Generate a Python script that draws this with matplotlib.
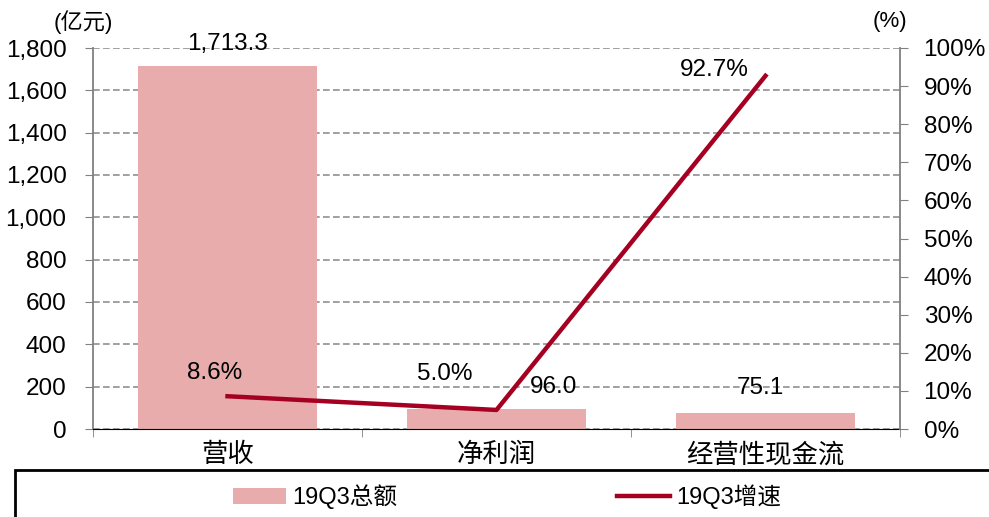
import numpy as np
import matplotlib.pyplot as plt
from matplotlib.patches import Rectangle

plt.rcParams['font.family'] = ['Liberation Sans', 'Noto Sans CJK SC', 'DejaVu Sans']

categories = ['营收', '净利润', '经营性现金流']
totals = [1713.3, 96.0, 75.1]
growth = [8.6, 5.0, 92.7]
total_labels = ['1,713.3', '96.0', '75.1']
growth_labels = ['8.6%', '5.0%', '92.7%']

bar_color = '#E8ACAC'
line_color = '#A50021'

fig = plt.figure(figsize=(9.89, 5.17), dpi=100)
ax = fig.add_axes([93/989, 1-429/517, 807/989, 381/517])
x = np.arange(len(categories))

ax.bar(x, totals, width=0.665, color=bar_color, label='19Q3总额', zorder=2)
ax.set_ylim(0, 1800)
ax.set_yticks(np.arange(0, 1801, 200))
ax.set_yticklabels([f'{v:,}' for v in range(0, 1801, 200)])
ax.set_xlim(-0.5, 2.5)
ax.set_xticks(x)
ax.set_xticklabels(categories)
ax.set_xticks([-0.5, 0.5, 1.5, 2.5], minor=True)
ax.tick_params(axis='x', which='major', length=0, pad=10, labelsize=19)
ax.tick_params(axis='x', which='minor', length=6, direction='out', color='#808080')
ax.tick_params(axis='y', length=6, direction='out', labelsize=17.5, color='#808080', pad=13)
ax.grid(axis='y', linestyle=(0, (4, 2)), color='#909090', linewidth=1.2, zorder=0)
for s in ['top', 'right']:
    ax.spines[s].set_visible(False)
ax.spines['left'].set_color('#808080')
ax.spines['left'].set_linewidth(1.3)
ax.spines['bottom'].set_color('black')

# bar labels
bar_offsets = [(0, 8), (41, 8), (-4, 10)]
for i, (v, t) in enumerate(zip(totals, total_labels)):
    ax.annotate(t, (x[i], v), xytext=bar_offsets[i], textcoords='offset points',
                ha='center', va='bottom', fontsize=17.5)

ax2 = ax.twinx()
ax2.plot(x, growth, color=line_color, linewidth=3.2, label='19Q3增速', zorder=3)
ax2.set_ylim(0, 100)
ax2.set_yticks(np.arange(0, 101, 10))
ax2.set_yticklabels([f'{v}%' for v in range(0, 101, 10)])
ax2.tick_params(axis='y', length=6, direction='out', labelsize=17.5, color='#808080', pad=11)
for s in ['top', 'left', 'bottom']:
    ax2.spines[s].set_visible(False)
ax2.spines['right'].set_color('#808080')
ax2.spines['right'].set_linewidth(1.3)

line_offsets = [(-9, 9), (-37, 18), (-37, -4)]
for i, (v, t) in enumerate(zip(growth, growth_labels)):
    ax2.annotate(t, (x[i], v), xytext=line_offsets[i], textcoords='offset points',
                 ha='center', va='bottom', fontsize=17.5)

fig.text(83/989, 1-22/517, '(亿元)', ha='center', va='center', fontsize=16)
fig.text(890/989, 1-22/517, '(%)', ha='center', va='center', fontsize=16)

# legend box
fig.patches.append(Rectangle((15/989, -0.02), 1.0, (517-470)/517 + 0.02, transform=fig.transFigure,
                             fill=False, edgecolor='black', linewidth=2, clip_on=False))
h1, l1 = ax.get_legend_handles_labels()
h2, l2 = ax2.get_legend_handles_labels()
fig.legend(h1 + h2, l1 + l2, loc='center', bbox_to_anchor=(507/989, 1-497/517), ncol=2,
           frameon=False, fontsize=17, handlelength=2.25, handletextpad=0.25, columnspacing=9.3)

fig.savefig('out.png', dpi=100)
